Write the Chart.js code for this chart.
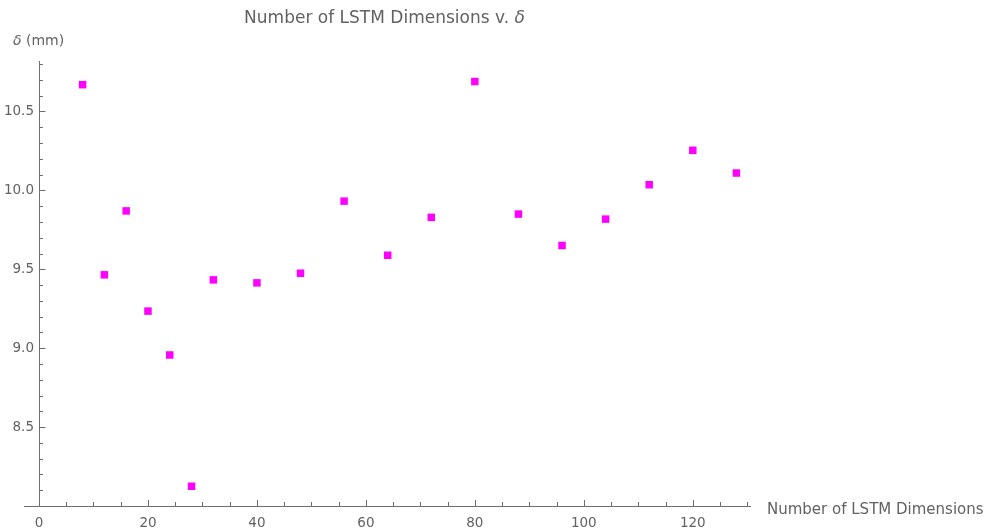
<!DOCTYPE html>
<html>
<head>
<meta charset="utf-8">
<script src="https://cdn.jsdelivr.net/npm/chart.js@4.4.1/dist/chart.umd.min.js"></script>
<style>
  html, body { margin: 0; padding: 0; background: #ffffff; }
  #wrap { width: 985px; height: 532px; }
</style>
</head>
<body>
<div id="wrap"><canvas id="c" width="985" height="532"></canvas></div>
<script>
// ---- data ----
const dims = [8, 12, 16, 20, 24, 28, 32, 40, 48, 56, 64, 72, 80, 88, 96, 104, 112, 120, 128];
const delta = [10.67, 9.465, 9.87, 9.235, 8.957, 8.125, 9.433, 9.414, 9.475, 9.932, 9.589, 9.829, 10.69, 9.85, 9.651, 9.818, 10.036, 10.254, 10.11];
const xTickValues = [0, 20, 40, 60, 80, 100, 120];
const yTickValues = [8.5, 9.0, 9.5, 10.0, 10.5];
const titleText = "Number of LSTM Dimensions v. ";
const titleSymbol = "δ";
const xAxisTitle = "Number of LSTM Dimensions";
const yAxisSymbol = "δ";
const yAxisUnit = " (mm)";

const TEXT = '#626262';
const AXIS = '#6e6e6e';
const FONT = 'DejaVu Sans';

Chart.defaults.font.family = FONT;
Chart.defaults.color = TEXT;

const points = dims.map((d, i) => ({ x: d, y: delta[i] }));

const decor = {
  id: 'decor',
  afterDraw(chart) {
    const ctx = chart.ctx;
    const xs = chart.scales.x, ys = chart.scales.y;
    const x0 = xs.getPixelForValue(0);
    const yb = ys.getPixelForValue(8);
    ctx.save();
    ctx.strokeStyle = AXIS;
    ctx.lineWidth = 1;
    // x axis extension left of the y axis
    ctx.beginPath();
    ctx.moveTo(x0 - 15, Math.round(yb) + 0.5);
    ctx.lineTo(x0, Math.round(yb) + 0.5);
    ctx.stroke();
    // y ticks (inward)
    for (let k = 80; k <= 108; k++) {
      const v = k / 10;
      const py = Math.round(ys.getPixelForValue(v)) + 0.5;
      const major = (k % 5 === 0);
      ctx.beginPath();
      ctx.moveTo(x0, py);
      ctx.lineTo(x0 + (major ? 6.5 : 4), py);
      ctx.stroke();
    }
    // x ticks (inward)
    for (let v = 5; v <= 130; v += 5) {
      const px = Math.round(xs.getPixelForValue(v)) + 0.5;
      const major = (v % 20 === 0);
      ctx.beginPath();
      ctx.moveTo(px, yb);
      ctx.lineTo(px, yb - (major ? 6 : 4));
      ctx.stroke();
    }
    // title
    ctx.fillStyle = TEXT;
    ctx.textBaseline = 'alphabetic';
    ctx.textAlign = 'left';
    ctx.font = '17px "' + FONT + '"';
    const w1 = ctx.measureText(titleText).width;
    ctx.font = 'italic 17px "' + FONT + '"';
    const w2 = ctx.measureText(titleSymbol).width;
    const tx = 384.5 - (w1 + w2) / 2;
    ctx.font = '17px "' + FONT + '"';
    ctx.fillText(titleText, tx, 23);
    ctx.font = 'italic 17px "' + FONT + '"';
    ctx.fillText(titleSymbol, tx + w1, 23);
    // y axis title
    ctx.font = 'italic 14px "' + FONT + '"';
    ctx.fillText(yAxisSymbol, 13, 44.5);
    const ws = ctx.measureText(yAxisSymbol).width;
    ctx.font = '14px "' + FONT + '"';
    ctx.fillText(yAxisUnit, 13 + ws, 44.5);
    // x axis title
    ctx.font = '15px "' + FONT + '"';
    ctx.fillText(xAxisTitle, 767, 513.5);
    ctx.restore();
  }
};

new Chart(document.getElementById('c'), {
  type: 'scatter',
  data: {
    datasets: [{
      data: points,
      pointStyle: 'rect',
      pointRadius: 5.3,
      pointHoverRadius: 5.3,
      backgroundColor: '#ff00ff',
      borderWidth: 0
    }]
  },
  options: {
    responsive: false,
    animation: false,
    events: [],
    layout: { padding: { left: 0, right: 235, top: 61, bottom: 0 } },
    plugins: { legend: { display: false }, title: { display: false }, tooltip: { enabled: false } },
    scales: {
      x: {
        type: 'linear',
        position: 'bottom',
        min: 0,
        max: 130.5,
        afterFit: (s) => { s.height = 26; },
        afterBuildTicks: (s) => { s.ticks = xTickValues.map(v => ({ value: v })); },
        grid: { display: false, drawTicks: false },
        border: { display: true, color: AXIS, width: 1 },
        ticks: {
          padding: 9,
          color: TEXT,
          font: { size: 13.5, family: FONT },
          maxRotation: 0,
          callback: (v) => String(v)
        }
      },
      y: {
        type: 'linear',
        position: 'left',
        min: 8,
        max: 10.82,
        afterFit: (s) => { s.width = 39; },
        afterBuildTicks: (s) => { s.ticks = yTickValues.map(v => ({ value: v })); },
        grid: { display: false, drawTicks: false },
        border: { display: true, color: AXIS, width: 1 },
        ticks: {
          padding: 5,
          color: TEXT,
          font: { size: 13.5, family: FONT },
          callback: (v) => Number(v).toFixed(1)
        }
      }
    }
  },
  plugins: [decor]
});
</script>
</body>
</html>
